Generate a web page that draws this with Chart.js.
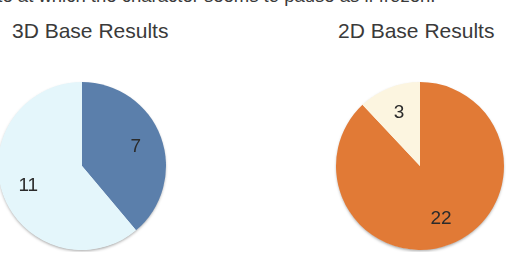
<!DOCTYPE html>
<html>
<head>
<meta charset="utf-8">
<script src="https://cdn.jsdelivr.net/npm/chart.js@4"></script>
<style>
  html, body { margin: 0; padding: 0; background: #fff; overflow: hidden; }
  body { width: 509px; height: 259px; position: relative; font-family: "Liberation Sans", Arial, sans-serif; }
  .cap { position: absolute; white-space: nowrap; color: #3a3a3a; }
  .pie { position: absolute; width: 172px; height: 172px; }
</style>
</head>
<body>
<div class="cap" id="topline" style="left:-13px; top:-15px; font-size:18.5px; line-height:22px;">ate at which the character seems to pause as if frozen.</div>
<div class="cap" style="left:12px; top:19px; font-size:21px;">3D Base Results</div>
<div class="cap" style="left:338px; top:19px; font-size:21px;">2D Base Results</div>
<div class="pie" style="left:-4px; top:80px;"><canvas id="c3d"></canvas></div>
<div class="pie" style="left:334px; top:80px;"><canvas id="c2d"></canvas></div>
<script>
// values
var labels3d = ['Yes', 'No'];
var values3d = [7, 11];
var colors3d = ['#5b7fab', '#e4f6fb'];

var labels2d = ['Yes', 'No'];
var values2d = [22, 3];
var colors2d = ['#e17a36', '#fcf5e0'];

// soft shadow under the whole pie
var shadowPlugin = {
  id: 'pieShadow',
  beforeDatasetsDraw: function(chart) {
    var arc = chart.getDatasetMeta(0).data[0];
    var ctx = chart.ctx;
    ctx.save();
    ctx.shadowColor = 'rgba(0,0,0,0.35)';
    ctx.shadowBlur = 3;
    ctx.shadowOffsetY = 1.5;
    ctx.beginPath();
    ctx.arc(arc.x, arc.y, arc.outerRadius - 0.5, 0, Math.PI * 2);
    ctx.fillStyle = '#ffffff';
    ctx.fill();
    ctx.restore();
  }
};

// value labels inside slices
var valuePlugin = {
  id: 'valueLabels',
  afterDatasetsDraw: function(chart) {
    var ctx = chart.ctx;
    var ds = chart.data.datasets[0];
    chart.getDatasetMeta(0).data.forEach(function(arc, i) {
      var mid = (arc.startAngle + arc.endAngle) / 2;
      var r = arc.outerRadius * 0.68;
      ctx.save();
      ctx.font = '19px "Liberation Sans", Arial, sans-serif';
      ctx.fillStyle = '#2b2b2b';
      ctx.textAlign = 'center';
      ctx.textBaseline = 'middle';
      ctx.fillText(String(ds.data[i]), arc.x + Math.cos(mid) * r, arc.y + Math.sin(mid) * r);
      ctx.restore();
    });
  }
};

function makePie(id, labels, values, colors) {
  return new Chart(document.getElementById(id), {
    type: 'pie',
    data: {
      labels: labels,
      datasets: [{ data: values, backgroundColor: colors, borderWidth: 0 }]
    },
    options: {
      responsive: true,
      maintainAspectRatio: false,
      animation: false,
      layout: { padding: 2 },
      plugins: { legend: { display: false }, tooltip: { enabled: false } }
    },
    plugins: [shadowPlugin, valuePlugin]
  });
}

makePie('c3d', labels3d, values3d, colors3d);
makePie('c2d', labels2d, values2d, colors2d);
</script>
</body>
</html>
